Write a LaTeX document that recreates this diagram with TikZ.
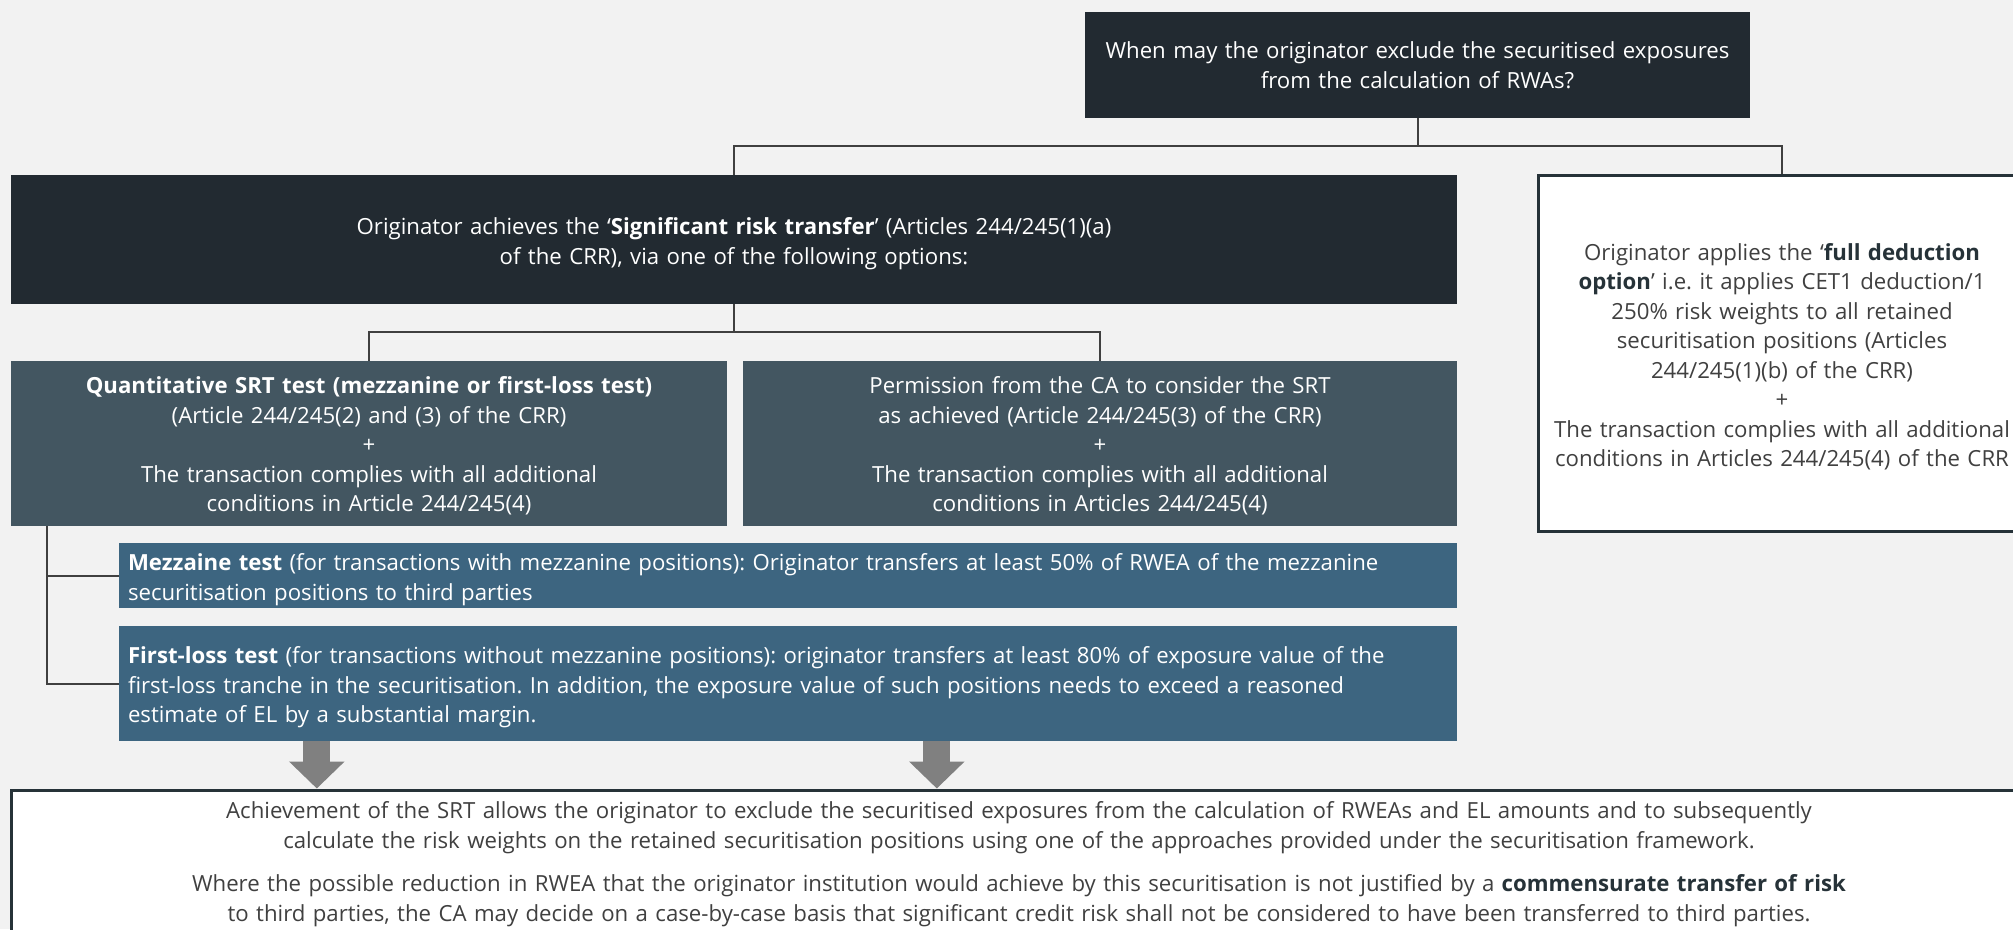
\documentclass[tikz,border=0pt]{standalone}
\usepackage{fontspec}
\setmainfont{Open Sans}
\usetikzlibrary{arrows.meta}
\definecolor{bgc}{HTML}{F2F2F2}
\definecolor{darkc}{HTML}{222A31}
\definecolor{slatec}{HTML}{435661}
\definecolor{bluec}{HTML}{3D6580}
\definecolor{arrowc}{HTML}{808080}
\definecolor{linec}{HTML}{404040}
\definecolor{borderc}{HTML}{263238}
\definecolor{textc}{HTML}{404040}
\frenchspacing
\newcommand{\dropA}{\rule{0pt}{25pt}}
\newcommand{\dropB}{\rule{0pt}{22pt}}
\begin{document}
\begin{tikzpicture}[x=1pt,y=-1pt,
  txt/.style={font=\fontsize{22.2}{29.5}\selectfont},
  darkbox/.style={txt,fill=darkc,text=white,inner sep=0pt,align=center},
  slatebox/.style={txt,fill=slatec,text=white,inner sep=0pt,align=center},
  bluebox/.style={txt,fill=bluec,text=white,inner sep=0pt,align=left},
  whitebox/.style={txt,fill=white,draw=borderc,line width=3pt,text=textc,inner sep=0pt,align=center},
  conn/.style={draw=linec,line width=2pt},
  bigarrow/.style={draw=arrowc,line width=27pt,-{Triangle[width=54pt,length=27pt]}}
]
\useasboundingbox (0,0) rectangle (2013,929);
\fill[bgc] (0,0) rectangle (2013,929);
\clip (0,0) rectangle (2013,929);

\node[darkbox,minimum width=665pt,minimum height=106.5pt,text width=650pt] (top) at (1417.5,65)
  {When may the originator exclude the securitised exposures\\ from the calculation of RWAs?};

\node[darkbox,minimum width=1445.5pt,minimum height=129pt,text width=1400pt] (srt) at (734,239.5)
  {\dropA Originator achieves the ‘\textbf{Significant risk transfer}’ (Articles 244/245(1)(a)\\ of the CRR), via one of the following options:};

\node[whitebox,minimum width=488pt,minimum height=356pt,text width=484pt] (fdo) at (1782,353)
  {\dropA Originator applies the ‘\textbf{\color{borderc}full deduction}\\ \textbf{\color{borderc}option}’ i.e. it applies CET1 deduction/1\\ 250\% risk weights to all retained\\ securitisation positions (Articles\\ 244/245(1)(b) of the CRR)\\ +\\ The transaction complies with all additional\\ conditions in Articles 244/245(4) of the CRR};

\node[slatebox,minimum width=715.5pt,minimum height=165pt,text width=700pt] (quant) at (369,443.5)
  {\dropB\textbf{Quantitative SRT test (mezzanine or first-loss test)}\\ (Article 244/245(2) and (3) of the CRR)\\ +\\ The transaction complies with all additional\\ conditions in Article 244/245(4)};

\node[slatebox,minimum width=714pt,minimum height=165pt,text width=700pt] (perm) at (1100,443.5)
  {\dropB Permission from the CA to consider the SRT\\ as achieved (Article 244/245(3) of the CRR)\\ +\\ The transaction complies with all additional\\ conditions in Articles 244/245(4)};

\node[bluebox,minimum width=1338pt,minimum height=65pt,text width=1320pt] (mezz) at (788,575.5)
  {\dropA\textbf{Mezzaine test} (for transactions with mezzanine positions): Originator transfers at least 50\% of RWEA of the mezzanine\\ securitisation positions to third parties};

\node[bluebox,minimum width=1338pt,minimum height=115pt,text width=1320pt] (fl) at (788,683.5)
  {\dropA\textbf{First-loss test} (for transactions without mezzanine positions): originator transfers at least 80\% of exposure value of the\\ first-loss tranche in the securitisation. In addition, the exposure value of such positions needs to exceed a reasoned\\ estimate of EL by a substantial margin.};

\node[whitebox,minimum width=2015pt,minimum height=148pt,text width=1900pt] (bottom) at (1019,864)
  {Achievement of the SRT allows the originator to exclude the securitised exposures from the calculation of RWEAs and EL amounts and to subsequently\\ calculate the risk weights on the retained securitisation positions using one of the approaches provided under the securitisation framework.\\[14pt] Where the possible reduction in RWEA that the originator institution would achieve by this securitisation is not justified by a \textbf{\color{borderc}commensurate transfer of risk}\\ to third parties, the CA may decide on a case-by-case basis that significant credit risk shall not be considered to have been transferred to third parties.};

% connectors
\draw[conn] (top.south) -- ++(0,28) -| (srt.north);
\draw[conn] (top.south) -- ++(0,28) -| (fdo.north);
\draw[conn] (srt.south) -- ++(0,28) -| (quant.north);
\draw[conn] (srt.south) -- ++(0,28) -| (perm.north);
\coordinate (qb) at ([xshift=36pt]quant.south west);
\draw[conn] (qb) |- (mezz.west);
\draw[conn] (qb) |- (fl.west);

\coordinate (a1) at ([xshift=198pt]fl.south west);
\coordinate (a2) at ([xshift=818pt]fl.south west);
\draw[bigarrow] (a1) -- (a1 |- bottom.north);
\draw[bigarrow] (a2) -- (a2 |- bottom.north);
\end{tikzpicture}
\end{document}
